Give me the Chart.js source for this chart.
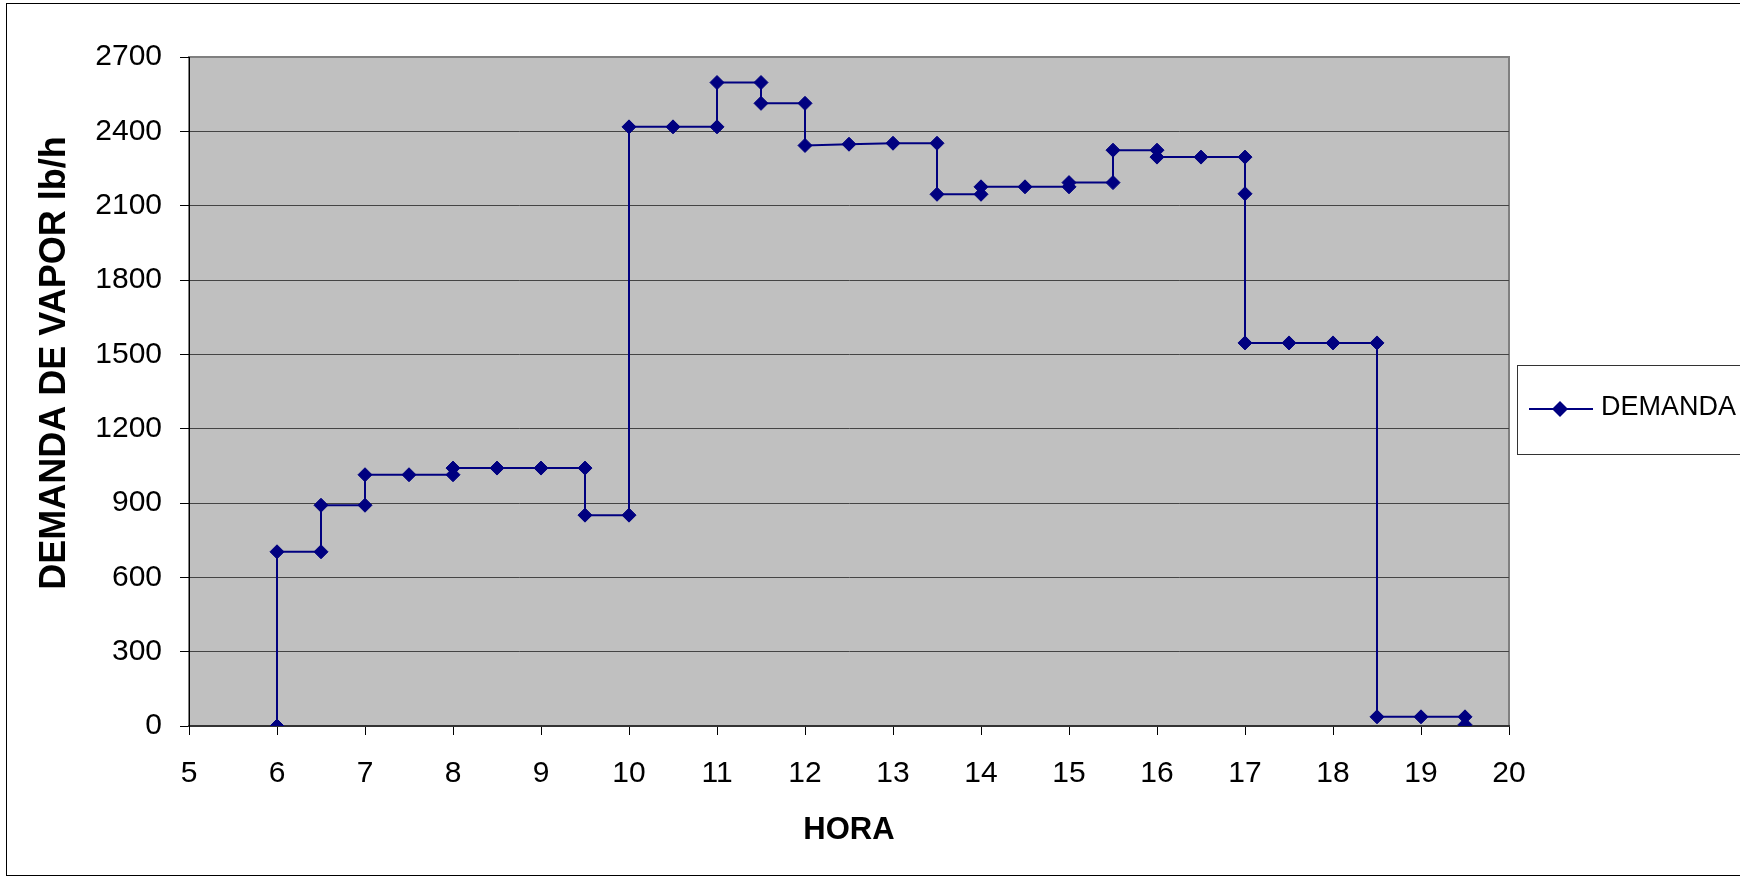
<!DOCTYPE html>
<html>
<head>
<meta charset="utf-8">
<script src="https://cdn.jsdelivr.net/npm/chart.js@4/dist/chart.umd.min.js"></script>
<style>
    body { margin: 0; background: #fff; }
    canvas { display: block; }
</style>
</head>
<body>
<canvas id="demandChart" width="1740" height="879"></canvas>
<script>
// Hour of day (x) and steam demand lb/h (y), step profile
const hours = [6, 6, 6.5, 6.5, 7, 7, 7.5, 8, 8, 8.5, 9, 9.5, 9.5, 10, 10, 10.5, 11, 11, 11.5, 11.5,
    12, 12, 12.5, 13, 13.5, 13.5, 14, 14, 14.5, 15, 15, 15.5, 15.5, 16, 16, 16.5, 17, 17, 17,
    17.5, 18, 18.5, 18.5, 19, 19.5, 19.5];
const demand = [0, 703, 703, 891, 891, 1014, 1014, 1014, 1041, 1041, 1041, 1041, 851, 851, 2418, 2418, 2418, 2597, 2597, 2513,
    2513, 2343, 2348, 2352, 2352, 2146, 2146, 2176, 2176, 2176, 2193, 2193, 2324, 2324, 2296, 2296, 2296, 2148, 1546,
    1546, 1546, 1546, 37, 37, 37, 5];
const seriesName = 'DEMANDA';
const xTitle = 'HORA';
const yTitle = 'DEMANDA DE VAPOR lb/h';
const xMin = 5, xMax = 20, xStep = 1;
const yMin = 0, yMax = 2700, yStep = 300;

const FONT = '"Liberation Sans", Arial, sans-serif';
const NAVY = '#000080';

const chartDecor = {
    id: 'chartDecor',
    beforeDraw(chart) {
        const { ctx, chartArea: a } = chart;
        ctx.save();
        ctx.fillStyle = '#fff';
        ctx.fillRect(0, 0, chart.width, chart.height);
        ctx.fillStyle = '#c0c0c0';
        ctx.fillRect(a.left, a.top, a.right - a.left, a.bottom - a.top);
        ctx.strokeStyle = '#808080';
        ctx.lineWidth = 2;
        ctx.strokeRect(a.left, a.top, a.right - a.left, a.bottom - a.top);
        ctx.restore();
    },
    afterDraw(chart) {
        const ctx = chart.ctx;
        const ds = chart.data.datasets[0];
        ctx.save();
        // outer frame
        ctx.strokeStyle = '#000';
        ctx.lineWidth = 1;
        ctx.strokeRect(6.5, 3.5, 1800, 872);

        // y axis title
        ctx.translate(55, 363);
        ctx.rotate(-Math.PI / 2);
        ctx.font = 'bold 36px ' + FONT;
        ctx.fillStyle = '#000';
        ctx.textAlign = 'center';
        ctx.textBaseline = 'middle';
        ctx.fillText(yTitle, 0, 0);
        ctx.setTransform(1, 0, 0, 1, 0, 0);

        // legend box
        ctx.fillStyle = '#fff';
        ctx.fillRect(1517, 365, 300, 90);
        ctx.strokeStyle = '#333';
        ctx.strokeRect(1517.5, 365.5, 300, 89);
        const ly = 409;
        ctx.strokeStyle = ds.borderColor;
        ctx.lineWidth = ds.borderWidth;
        ctx.beginPath();
        ctx.moveTo(1529, ly);
        ctx.lineTo(1593, ly);
        ctx.stroke();
        ctx.fillStyle = ds.pointBackgroundColor;
        ctx.beginPath();
        ctx.moveTo(1560 - 8, ly);
        ctx.lineTo(1560, ly - 8);
        ctx.lineTo(1560 + 8, ly);
        ctx.lineTo(1560, ly + 8);
        ctx.closePath();
        ctx.fill();
        ctx.fillStyle = '#000';
        ctx.font = '27px ' + FONT;
        ctx.textAlign = 'left';
        ctx.textBaseline = 'alphabetic';
        ctx.fillText(ds.label, 1601, 415);
        ctx.restore();
    }
};

const ctx = document.getElementById('demandChart').getContext('2d');

new Chart(ctx, {
    type: 'scatter',
    data: {
        datasets: [{
            label: seriesName,
            data: hours.map((h, i) => ({ x: h, y: demand[i] })),
            showLine: true,
            borderColor: NAVY,
            borderWidth: 2,
            pointStyle: 'rectRot',
            pointRadius: 7,
            pointBorderWidth: 1,
            pointBackgroundColor: NAVY,
            pointBorderColor: NAVY,
            tension: 0
        }]
    },
    options: {
        responsive: false,
        animation: false,
        layout: { padding: { top: 57, right: 231, left: 0, bottom: 0 } },
        scales: {
            x: {
                type: 'linear',
                min: xMin,
                max: xMax,
                afterFit: scale => { scale.height = 153; },
                ticks: {
                    stepSize: xStep,
                    color: '#000',
                    padding: 21,
                    font: { family: FONT, size: 30 },
                    callback: v => String(v)
                },
                grid: {
                    drawOnChartArea: false,
                    drawTicks: true,
                    tickLength: 9,
                    color: '#000'
                },
                border: { color: '#333', width: 2 },
                title: {
                    display: true,
                    text: xTitle,
                    color: '#000',
                    font: { family: FONT, size: 31, weight: 'bold' },
                    padding: { top: 0, bottom: 30 }
                }
            },
            y: {
                min: yMin,
                max: yMax,
                afterFit: scale => { scale.width = 189; },
                ticks: {
                    stepSize: yStep,
                    color: '#000',
                    padding: 18,
                    font: { family: FONT, size: 30 },
                    callback: v => String(v)
                },
                grid: {
                    color: c => (c.tick && c.tick.value === yMax ? '#808080' : '#444'),
                    tickColor: '#000',
                    tickLength: 9,
                    lineWidth: 1
                },
                border: { color: '#000', width: 1 }
            }
        },
        plugins: {
            legend: { display: false },
            tooltip: { enabled: false }
        }
    },
    plugins: [chartDecor]
});
</script>
</body>
</html>
